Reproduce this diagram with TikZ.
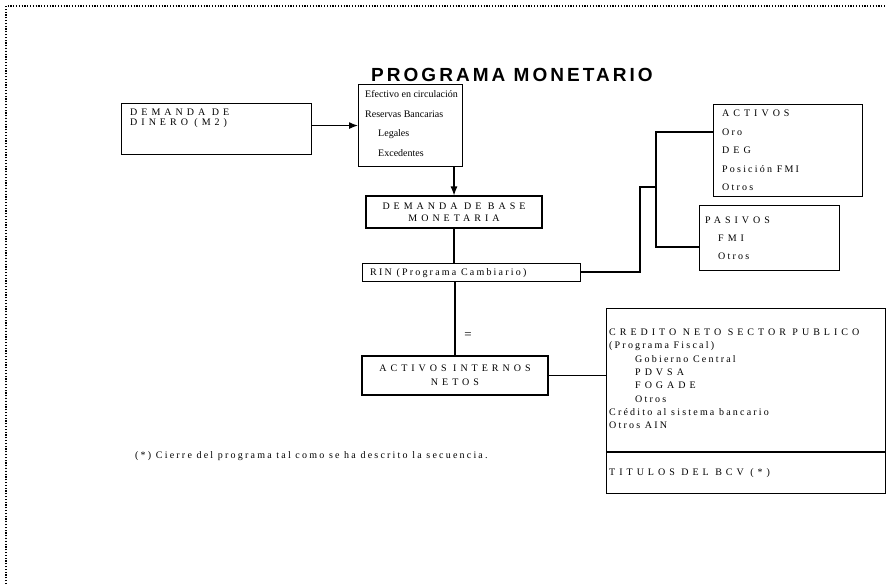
\documentclass[tikz,border=0pt]{standalone}
\usepackage{fontspec}
\setmainfont{Liberation Serif}
\newfontfamily\titlefont[LetterSpace=16]{Liberation Sans}
\newfontfamily\capsw[LetterSpace=40]{Liberation Serif}
\newfontfamily\midw[LetterSpace=22]{Liberation Serif}
\usetikzlibrary{arrows.meta}
\begin{document}
\begin{tikzpicture}[x=1pt,y=-1pt,
  box/.style={draw, line width=1.1pt, inner sep=0pt},
  capst/.style={inner sep=0pt, anchor=base west, font=\capsw\fontsize{10}{12}\selectfont},
  midt/.style={inner sep=0pt, anchor=base west, font=\midw\fontsize{10}{12}\selectfont},
  plaint/.style={inner sep=0pt, anchor=base west, font=\fontsize{10}{12}\selectfont},
  conn/.style={line width=1.1pt},
  arr/.style={conn, -{Latex[length=9pt,width=7pt]}},
  border/.style={line width=1.2pt, dash pattern=on 1.2pt off 1.6pt}]
\useasboundingbox (0,0) rectangle (886,584);
% dotted page border
\coordinate (bl) at (6,584);
\coordinate (tl) at (6,6);
\coordinate (tr) at (886,6);
\draw[border] (bl) -- (tl) -- (tr);
% title
\node[font=\titlefont\bfseries\fontsize{19}{19}\selectfont, inner sep=0pt] (title) at (512,75) {PROGRAMA MONETARIO};
% DEMANDA DE DINERO
\node[box, minimum width=190pt, minimum height=51pt, anchor=north west] (dinero) at (121,103) {};
\node[capst] (dn1) at (130,115.5) {DEMANDA DE};
\node[capst] (dn2) at (130,125.5) {DINERO (M2)};
% Efectivo box
\node[box, minimum width=104pt, minimum height=82pt, anchor=north west] (efectivo) at (358,84) {};
\node[plaint] (ef1) at (365,97.5) {Efectivo en circulación};
\node[plaint] (ef2) at (365,117) {Reservas Bancarias};
\node[plaint] (ef3) at (378,136.5) {Legales};
\node[plaint] (ef4) at (378,156) {Excedentes};
% Demanda de base monetaria
\node[box, minimum width=176pt, minimum height=32pt, align=center,
      font=\capsw\fontsize{10}{11.5}\selectfont] (base) at (454,212) {DEMANDA DE BASE\\MONETARIA};
% RIN
\node[box, minimum width=218pt, minimum height=18pt, anchor=north west] (rin) at (362,263) {};
\node[midt] (rint) at (370,275.5) {RIN (Programa Cambiario)};
% ACTIVOS
\node[box, minimum width=149pt, minimum height=92pt, anchor=north west] (activos) at (713,104) {};
\node[capst] (ac1) at (722,116.5) {ACTIVOS};
\node[midt] (ac2) at (722,135) {Oro};
\node[capst] (ac3) at (722,153.5) {DEG};
\node[midt] (ac4) at (722,172) {Posición FMI};
\node[midt] (ac5) at (722,190.5) {Otros};
% PASIVOS
\node[box, minimum width=140pt, minimum height=65pt, anchor=north west] (pasivos) at (699,205) {};
\node[capst] (pa1) at (705,223.5) {PASIVOS};
\node[capst] (pa2) at (718,241.5) {FMI};
\node[midt] (pa3) at (718,259.5) {Otros};
% bracket
\coordinate (bk1) at (656,132);
\coordinate (bk2) at (656,247);
\coordinate (bkm) at (656,187);
\coordinate (rk) at (640,272);
\draw[conn] (bk1 -| activos.west) -- (bk1) -- (bk2) -- (bk2 -| pasivos.west);
\draw[conn] (rin.east |- rk) -- (rk) -- (rk |- bkm) -- (bkm);
% arrows and links in the central column
\draw[arr] (dinero.east |- efectivo.west) -- (efectivo.west);
\draw[arr] (base.north |- efectivo.south) -- (base.north);
\draw[conn] (base.south) -- (base.south |- rin.north);
% ACTIVOS INTERNOS NETOS
\node[box, minimum width=186pt, minimum height=39pt, align=center,
      font=\capsw\fontsize{10}{14}\selectfont] (ain) at (455,375.5) {ACTIVOS INTERNOS\\NETOS};
\draw[conn] (rin.south -| ain.north) -- (ain.north);
\node[font=\fontsize{13}{13}\selectfont, inner sep=0pt] (eq) at (468,336) {=};
% Credito box
\node[box, minimum width=279pt, minimum height=185pt, anchor=north west] (credito) at (606,308) {};
\coordinate (sepl) at (606,452);
\draw[conn] (sepl) -- (sepl -| credito.east);
\node[capst] (cr1) at (609,335.5) {CREDITO NETO SECTOR PUBLICO};
\node[midt] (cr2) at (609,348.8) {(Programa Fiscal)};
\node[midt] (cr3) at (635,362) {Gobierno Central};
\node[capst] (cr4) at (635,375.5) {PDVSA};
\node[capst] (cr5) at (635,388.8) {FOGADE};
\node[midt] (cr6) at (635,402) {Otros};
\node[midt] (cr7) at (609,415.5) {Crédito al sistema bancario};
\node[midt] (cr8) at (609,428.8) {Otros AIN};
\node[capst] (cr9) at (609,475.5) {TITULOS DEL BCV (*)};
\draw[conn] (ain.east) -- (ain.east -| credito.west);
% footnote
\node[midt] (foot) at (135,458.5) {(*) Cierre del programa tal como se ha descrito la secuencia.};
\end{tikzpicture}
\end{document}
